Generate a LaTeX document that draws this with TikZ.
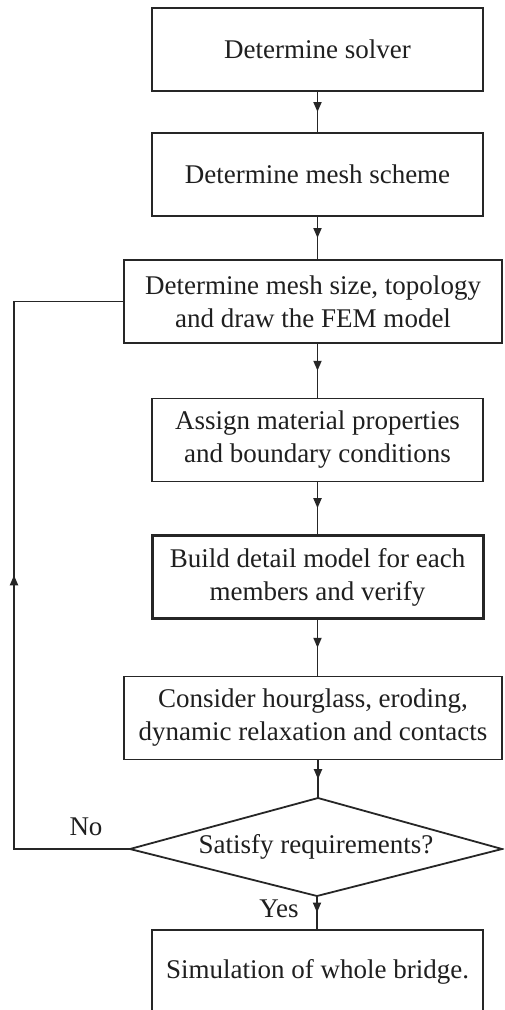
\documentclass[tikz,border=0pt]{standalone}
\usepackage{fontspec}
\setmainfont{Liberation Serif}
\usetikzlibrary{arrows.meta,decorations.markings}
\begin{document}
\begin{tikzpicture}[x=1pt,y=-1pt,
  every node/.style={font=\fontsize{27}{33}\selectfont, text=black!88},
  stepbox/.style={draw=black!85, line width=1.8pt, minimum width=331pt, minimum height=83pt, inner sep=0pt, align=center},
  widebox/.style={stepbox, minimum width=378pt},
  boldbox/.style={stepbox, line width=3pt},
  conn/.style={draw=black!85, line width=1.8pt},
  midarrow/.style={conn, postaction={decorate}, decoration={markings, mark=at position 0.5 with {\arrow{Triangle[length=10pt,width=8pt]}}}}
]
\useasboundingbox (0,0) rectangle (504,1010);
\clip (0,0) rectangle (504,1010);
\fill[white] (0,0) rectangle (504,1010);

\node[stepbox] (b1) at (317.5,49.5) {Determine solver};
\node[stepbox] (b2) at (317.5,174.5) {Determine mesh scheme};
\node[widebox] (b3) at (313,301.5) {Determine mesh size, topology\\and draw the FEM model};
\node[stepbox] (b4) at (317.5,440) {Assign material properties\\and boundary conditions};
\node[boldbox] (b5) at (317.5,577) {Build detail model for each\\members and verify};
\node[widebox] (b6) at (313,718) {Consider hourglass, eroding,\\dynamic relaxation and contacts};
\node[stepbox] (b7) at (317.5,971.5) {Simulation of whole bridge.};

\coordinate (dt) at (318,798);
\coordinate (dr) at (502,849);
\coordinate (db) at (317,896);
\coordinate (dl) at (130,849);
\draw[conn, line join=miter] (dt) -- (dr) -- (db) -- (dl) -- cycle;
\node (dq) at (316,847) {Satisfy requirements?};

\node (no) at (86,827) {No};
\node (yes) at (279,909) {Yes};

\coordinate (f1) at (14,849);
\coordinate (f2) at (14,301.5);

\draw[midarrow] (b1) -- (b2);
\draw[midarrow] (b2.south) -- (b2.south |- b3.north);
\draw[midarrow] (b3.south -| b2.south) -- (b4.north);
\draw[midarrow] (b4) -- (b5);
\draw[midarrow] (b5.south) -- (b5.south |- b6.north);
\draw[midarrow] (b6.south -| dt) -- (dt);
\draw[midarrow] (db) -- (db |- b7.north);
\draw[conn] (dl) -- (f1) -- (f2) -- (b3.west);
\draw[midarrow] (f1) -- (f2);
\end{tikzpicture}
\end{document}
